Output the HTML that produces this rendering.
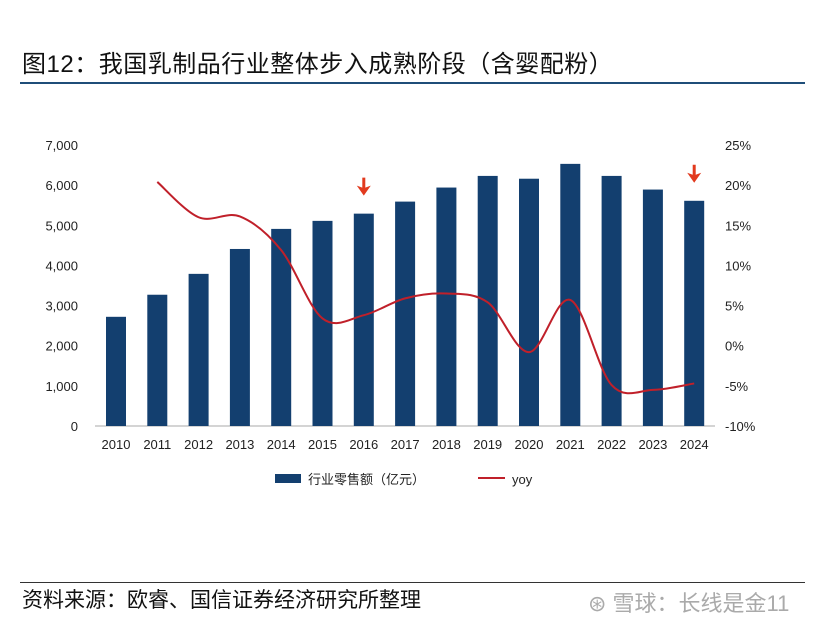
<!DOCTYPE html>
<html><head><meta charset="utf-8">
<style>
body{margin:0;width:830px;height:613px;background:#fff;overflow:hidden;font-family:"Liberation Sans","Noto Sans CJK SC",sans-serif;}
#title{position:absolute;left:22px;top:44px;font-size:24px;color:#111;letter-spacing:0.5px;}
#rule{position:absolute;left:20px;top:82px;width:785px;height:2px;background:#1f4e79;}
#rule2{position:absolute;left:20px;top:582px;width:785px;height:1px;background:#333;}
#source{position:absolute;left:22px;top:584px;font-size:21px;color:#111;}
#wm{position:absolute;left:588px;top:586px;font-size:22px;color:#aaa;}
svg{position:absolute;left:0;top:0;}
</style></head><body>
<div id="title">图12：我国乳制品行业整体步入成熟阶段（含婴配粉）</div>
<div id="rule"></div>
<svg id="chart" width="830" height="613"></svg>
<div id="rule2"></div>
<div id="source">资料来源：欧睿、国信证券经济研究所整理</div>
<div id="wm">⊛ 雪球：长线是金11</div>
<script>
const years=["2010","2011","2012","2013","2014","2015","2016","2017","2018","2019","2020","2021","2022","2023","2024"];
const sales=[2720,3270,3790,4410,4910,5110,5290,5590,5940,6230,6160,6530,6230,5890,5610];
const yoy=[null,20.4,16.0,16.1,11.9,3.4,3.8,5.9,6.5,5.4,-0.8,5.7,-4.9,-5.5,-4.7];
const leftTicks=[0,1000,2000,3000,4000,5000,6000,7000];
const rightTicks=[-10,-5,0,5,10,15,20,25];
const arrowYears=["2016","2024"];

const svg=document.getElementById('chart');
const NS='http://www.w3.org/2000/svg';
const y0=426,y1=145,x0=116,dx=41.3;
const yL=v=>y0-(v/7000)*(y0-y1);
const yR=v=>y0-((v+10)/35)*(y0-y1);
const xC=i=>x0+i*dx;
function mk(tag,attrs){const e=document.createElementNS(NS,tag);for(const k in attrs)e.setAttribute(k,attrs[k]);svg.appendChild(e);return e;}

leftTicks.forEach(t=>{const e=mk('text',{x:78,y:yL(t)+5,'text-anchor':'end','font-size':13,fill:'#222'});e.textContent=t.toLocaleString('en-US');

});
rightTicks.forEach(t=>{const e=mk('text',{x:725,y:yR(t)+5,'font-size':13,fill:'#222'});e.textContent=t+'%';

});
years.forEach((yr,i)=>{const e=mk('text',{x:xC(i),y:449,'text-anchor':'middle','font-size':13,fill:'#222'});e.textContent=yr;

});
const ax=mk('line',{x1:95,x2:715,y1:y0,y2:y0,stroke:'#aaa','stroke-width':1});



sales.forEach((v,i)=>{const b=mk('rect',{x:xC(i)-10,y:yL(v),width:20,height:y0-yL(v),fill:'#133f6f'});

});

const pts=[];yoy.forEach((v,i)=>{if(v!==null)pts.push([xC(i),yR(v)]);});
let d='M'+pts[0][0]+','+pts[0][1];
for(let i=0;i<pts.length-1;i++){const p0=pts[i-1]||pts[i],p1=pts[i],p2=pts[i+1],p3=pts[i+2]||p2;
d+=` C${p1[0]+(p2[0]-p0[0])/6},${p1[1]+(p2[1]-p0[1])/6} ${p2[0]-(p3[0]-p1[0])/6},${p2[1]-(p3[1]-p1[1])/6} ${p2[0]},${p2[1]}`;}
const ln=mk('path',{d:d,fill:'none',stroke:'#c0202a','stroke-width':2});



arrowYears.forEach(yr=>{const i=years.indexOf(yr);const x=xC(i);const top=yL(sales[i])-36;
const a=mk('path',{d:`M${x-1.5},${top} L${x+1.5},${top} L${x+1.5},${top+10} L${x+7},${top+8} L${x},${top+18} L${x-7},${top+8} L${x-1.5},${top+10}Z`,fill:'#e23a1e'});

});

const lb=mk('rect',{x:275,y:474,width:26,height:9,fill:'#133f6f'});


const lt=mk('text',{x:308,y:484,'font-size':13,fill:'#222'});lt.textContent='行业零售额（亿元）';


const ll=mk('line',{x1:478,x2:505,y1:478,y2:478,stroke:'#c0202a','stroke-width':2});


const lt2=mk('text',{x:512,y:484,'font-size':13,fill:'#222'});lt2.textContent='yoy';


</script>
</body></html>
